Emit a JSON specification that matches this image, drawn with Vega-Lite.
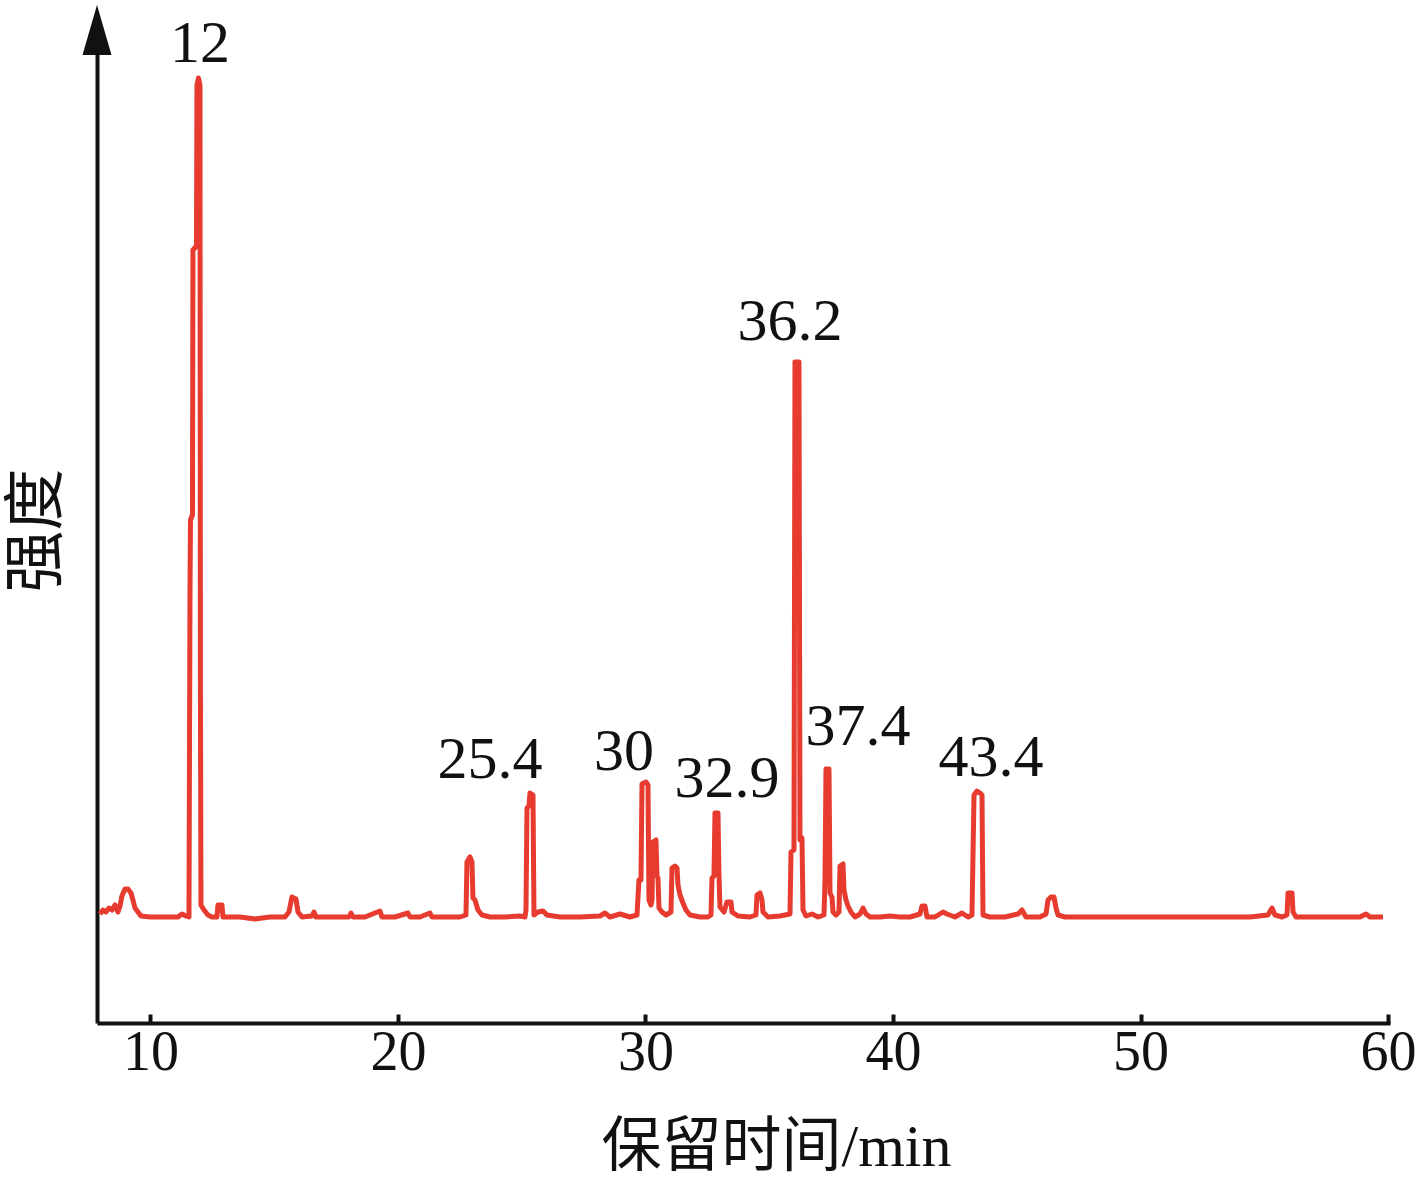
{
  "$schema": "https://vega.github.io/schema/vega-lite/v6.json",
  "width": 1293,
  "height": 993,
  "autosize": {"type": "none"},
  "padding": {"left": 97, "top": 30, "right": 27, "bottom": 158},
  "background": "white",
  "config": {"view": {"stroke": null}, "axis": {"grid": false}},
  "datasets": {
    "trace": [
      {"t": 7.960, "v": 10.9}, {"t": 8.081, "v": 11.3}, {"t": 8.202, "v": 11.1}, {"t": 8.323, "v": 11.5},
      {"t": 8.444, "v": 11.3}, {"t": 8.566, "v": 11.8}, {"t": 8.687, "v": 11.1}, {"t": 8.768, "v": 11.7},
      {"t": 8.848, "v": 12.7}, {"t": 8.970, "v": 13.4}, {"t": 9.091, "v": 13.4}, {"t": 9.212, "v": 13.0},
      {"t": 9.293, "v": 12.3}, {"t": 9.374, "v": 11.5}, {"t": 9.495, "v": 11.1}, {"t": 9.616, "v": 10.7},
      {"t": 9.980, "v": 10.6}, {"t": 10.586, "v": 10.6}, {"t": 11.111, "v": 10.6}, {"t": 11.273, "v": 10.9},
      {"t": 11.434, "v": 10.7}, {"t": 11.556, "v": 10.6}, {"t": 11.596, "v": 42.3}, {"t": 11.616, "v": 50.3},
      {"t": 11.697, "v": 50.8}, {"t": 11.717, "v": 77.3}, {"t": 11.859, "v": 77.7}, {"t": 11.879, "v": 93.8},
      {"t": 11.939, "v": 94.5}, {"t": 12.000, "v": 93.8}, {"t": 12.020, "v": 32.3}, {"t": 12.040, "v": 11.8},
      {"t": 12.162, "v": 11.3}, {"t": 12.323, "v": 10.8}, {"t": 12.485, "v": 10.6}, {"t": 12.687, "v": 10.6},
      {"t": 12.727, "v": 11.8}, {"t": 12.889, "v": 11.8}, {"t": 12.929, "v": 10.6}, {"t": 13.616, "v": 10.6},
      {"t": 14.222, "v": 10.4}, {"t": 14.828, "v": 10.6}, {"t": 15.434, "v": 10.6}, {"t": 15.596, "v": 11.1},
      {"t": 15.717, "v": 12.6}, {"t": 15.879, "v": 12.4}, {"t": 15.960, "v": 11.1}, {"t": 16.121, "v": 10.6},
      {"t": 16.525, "v": 10.7}, {"t": 16.606, "v": 11.1}, {"t": 16.687, "v": 10.6}, {"t": 17.455, "v": 10.6},
      {"t": 18.020, "v": 10.6}, {"t": 18.101, "v": 11.0}, {"t": 18.182, "v": 10.6}, {"t": 18.667, "v": 10.6},
      {"t": 19.273, "v": 11.2}, {"t": 19.354, "v": 10.6}, {"t": 19.879, "v": 10.6}, {"t": 20.404, "v": 11.0},
      {"t": 20.485, "v": 10.6}, {"t": 20.889, "v": 10.6}, {"t": 21.293, "v": 11.0}, {"t": 21.374, "v": 10.6},
      {"t": 21.697, "v": 10.6}, {"t": 22.505, "v": 10.6}, {"t": 22.747, "v": 10.8}, {"t": 22.788, "v": 16.1},
      {"t": 22.909, "v": 16.6}, {"t": 22.990, "v": 16.1}, {"t": 23.030, "v": 12.5}, {"t": 23.111, "v": 12.3},
      {"t": 23.232, "v": 11.3}, {"t": 23.394, "v": 10.8}, {"t": 23.717, "v": 10.6}, {"t": 24.323, "v": 10.6},
      {"t": 24.929, "v": 10.7}, {"t": 25.131, "v": 10.6}, {"t": 25.172, "v": 11.3}, {"t": 25.212, "v": 21.5},
      {"t": 25.293, "v": 21.7}, {"t": 25.333, "v": 23.0}, {"t": 25.455, "v": 22.8}, {"t": 25.495, "v": 10.8},
      {"t": 25.657, "v": 11.1}, {"t": 25.859, "v": 11.2}, {"t": 26.020, "v": 10.8}, {"t": 26.545, "v": 10.6},
      {"t": 27.354, "v": 10.6}, {"t": 28.162, "v": 10.7}, {"t": 28.364, "v": 11.0}, {"t": 28.566, "v": 10.6},
      {"t": 28.970, "v": 10.9}, {"t": 29.374, "v": 10.6}, {"t": 29.657, "v": 10.8}, {"t": 29.737, "v": 14.3},
      {"t": 29.818, "v": 14.3}, {"t": 29.859, "v": 23.9}, {"t": 30.020, "v": 24.1}, {"t": 30.101, "v": 23.8},
      {"t": 30.141, "v": 12.3}, {"t": 30.222, "v": 11.8}, {"t": 30.263, "v": 12.3}, {"t": 30.303, "v": 18.1},
      {"t": 30.424, "v": 18.3}, {"t": 30.465, "v": 14.7}, {"t": 30.505, "v": 14.5}, {"t": 30.545, "v": 11.5},
      {"t": 30.667, "v": 11.1}, {"t": 30.828, "v": 10.8}, {"t": 31.030, "v": 11.1}, {"t": 31.071, "v": 15.5},
      {"t": 31.192, "v": 15.7}, {"t": 31.273, "v": 15.5}, {"t": 31.313, "v": 13.8}, {"t": 31.394, "v": 12.8},
      {"t": 31.515, "v": 12.0}, {"t": 31.636, "v": 11.3}, {"t": 31.798, "v": 10.8}, {"t": 32.202, "v": 10.6},
      {"t": 32.525, "v": 10.6}, {"t": 32.646, "v": 10.8}, {"t": 32.687, "v": 14.5}, {"t": 32.768, "v": 14.7},
      {"t": 32.808, "v": 21.0}, {"t": 32.929, "v": 21.0}, {"t": 32.970, "v": 14.7}, {"t": 33.010, "v": 11.6},
      {"t": 33.172, "v": 11.1}, {"t": 33.293, "v": 12.1}, {"t": 33.455, "v": 12.1}, {"t": 33.495, "v": 11.1},
      {"t": 33.737, "v": 10.7}, {"t": 34.222, "v": 10.6}, {"t": 34.465, "v": 10.8}, {"t": 34.505, "v": 12.8},
      {"t": 34.626, "v": 13.0}, {"t": 34.707, "v": 12.3}, {"t": 34.747, "v": 11.1}, {"t": 34.949, "v": 10.6},
      {"t": 35.434, "v": 10.7}, {"t": 35.838, "v": 10.9}, {"t": 35.879, "v": 17.1}, {"t": 36.000, "v": 17.3},
      {"t": 36.040, "v": 66.1}, {"t": 36.202, "v": 66.1}, {"t": 36.242, "v": 18.3}, {"t": 36.323, "v": 18.5},
      {"t": 36.364, "v": 11.3}, {"t": 36.485, "v": 10.7}, {"t": 36.727, "v": 10.9}, {"t": 36.970, "v": 10.6},
      {"t": 37.212, "v": 10.8}, {"t": 37.253, "v": 14.3}, {"t": 37.293, "v": 25.4}, {"t": 37.414, "v": 25.4},
      {"t": 37.455, "v": 13.0}, {"t": 37.535, "v": 12.6}, {"t": 37.576, "v": 11.1}, {"t": 37.697, "v": 10.8},
      {"t": 37.818, "v": 11.1}, {"t": 37.859, "v": 15.7}, {"t": 37.980, "v": 15.9}, {"t": 38.020, "v": 13.3},
      {"t": 38.101, "v": 12.3}, {"t": 38.182, "v": 11.7}, {"t": 38.303, "v": 11.1}, {"t": 38.465, "v": 10.6},
      {"t": 38.667, "v": 10.9}, {"t": 38.788, "v": 11.5}, {"t": 38.909, "v": 10.9}, {"t": 39.071, "v": 10.6},
      {"t": 39.475, "v": 10.6}, {"t": 39.879, "v": 10.7}, {"t": 40.283, "v": 10.6}, {"t": 40.687, "v": 10.6},
      {"t": 41.091, "v": 10.9}, {"t": 41.172, "v": 11.7}, {"t": 41.293, "v": 11.7}, {"t": 41.374, "v": 10.6},
      {"t": 41.697, "v": 10.6}, {"t": 42.020, "v": 11.1}, {"t": 42.182, "v": 10.9}, {"t": 42.505, "v": 10.6},
      {"t": 42.788, "v": 11.0}, {"t": 43.030, "v": 10.6}, {"t": 43.192, "v": 10.8}, {"t": 43.273, "v": 22.8},
      {"t": 43.394, "v": 23.2}, {"t": 43.515, "v": 23.0}, {"t": 43.596, "v": 22.8}, {"t": 43.636, "v": 10.8},
      {"t": 43.919, "v": 10.6}, {"t": 44.525, "v": 10.6}, {"t": 45.051, "v": 10.9}, {"t": 45.212, "v": 11.3},
      {"t": 45.374, "v": 10.6}, {"t": 45.939, "v": 10.6}, {"t": 46.182, "v": 10.9}, {"t": 46.263, "v": 12.3},
      {"t": 46.384, "v": 12.6}, {"t": 46.505, "v": 12.6}, {"t": 46.586, "v": 11.5}, {"t": 46.667, "v": 10.8},
      {"t": 46.949, "v": 10.6}, {"t": 48.364, "v": 10.6}, {"t": 49.576, "v": 10.6}, {"t": 50.788, "v": 10.6},
      {"t": 52.000, "v": 10.6}, {"t": 53.212, "v": 10.6}, {"t": 54.424, "v": 10.6}, {"t": 55.152, "v": 10.8},
      {"t": 55.313, "v": 11.5}, {"t": 55.434, "v": 10.8}, {"t": 55.717, "v": 10.6}, {"t": 55.919, "v": 10.8},
      {"t": 55.960, "v": 13.0}, {"t": 56.121, "v": 13.0}, {"t": 56.162, "v": 11.1}, {"t": 56.283, "v": 10.6},
      {"t": 57.253, "v": 10.6}, {"t": 58.263, "v": 10.6}, {"t": 58.869, "v": 10.6}, {"t": 59.111, "v": 10.9},
      {"t": 59.273, "v": 10.6}, {"t": 59.798, "v": 10.6}
    ],
    "labels": [
      {"t": 12.0, "v": 96.1, "label": "12"},
      {"t": 23.72, "v": 24.5, "label": "25.4"},
      {"t": 29.13, "v": 25.3, "label": "30"},
      {"t": 33.29, "v": 22.6, "label": "32.9"},
      {"t": 35.84, "v": 68.3, "label": "36.2"},
      {"t": 38.59, "v": 27.8, "label": "37.4"},
      {"t": 43.96, "v": 24.7, "label": "43.4"}
    ],
    "arrow": [{"t": 7.84, "v": 99.3}]
  },
  "layer": [
    {
      "data": {"name": "trace"},
      "mark": {"type": "line", "color": "#e63b2e", "strokeWidth": 5, "strokeJoin": "round", "strokeCap": "butt"},
      "encoding": {
        "x": {
          "field": "t", "type": "quantitative",
          "scale": {"domain": [7.84, 60.08], "nice": false, "zero": false},
          "axis": {
            "values": [10, 20, 30, 40, 50, 60],
            "title": "保留时间/min",
            "domainWidth": 4, "domainColor": "#111111",
            "tickColor": "#111111", "tickWidth": 4, "tickSize": -9,
            "labelFont": "Liberation Serif", "labelFontSize": 56, "labelColor": "#111111",
            "labelPadding": 11, "labelFlush": false, "labelOverlap": false,
            "titleFont": "Liberation Serif, Noto Sans CJK SC", "titleFontSize": 60,
            "titleFontWeight": "normal", "titleColor": "#111111",
            "titleX": 679, "titleY": 142, "titleAlign": "center", "titleBaseline": "alphabetic"
          }
        },
        "y": {
          "field": "v", "type": "quantitative",
          "scale": {"domain": [0, 99.3], "nice": false, "zero": false},
          "axis": {
            "title": "强度",
            "domainWidth": 4, "domainColor": "#111111",
            "ticks": false, "labels": false,
            "titleFont": "Liberation Serif, Noto Sans CJK SC", "titleFontSize": 62,
            "titleFontWeight": "normal", "titleColor": "#111111",
            "titleAngle": 270, "titleX": -60, "titleY": 500,
            "titleAlign": "center", "titleBaseline": "middle"
          }
        }
      }
    },
    {
      "data": {"name": "labels"},
      "mark": {"type": "text", "font": "Liberation Serif", "fontSize": 60, "color": "#111111", "align": "center", "baseline": "alphabetic"},
      "encoding": {
        "x": {"field": "t", "type": "quantitative"},
        "y": {"field": "v", "type": "quantitative"},
        "text": {"field": "label", "type": "nominal"}
      }
    },
    {
      "data": {"name": "arrow"},
      "mark": {"type": "point", "shape": "M0,-1L0.58,1L-0.58,1Z", "size": 2500, "filled": true, "color": "#111111", "opacity": 1},
      "encoding": {
        "x": {"field": "t", "type": "quantitative"},
        "y": {"field": "v", "type": "quantitative"}
      }
    }
  ]
}
